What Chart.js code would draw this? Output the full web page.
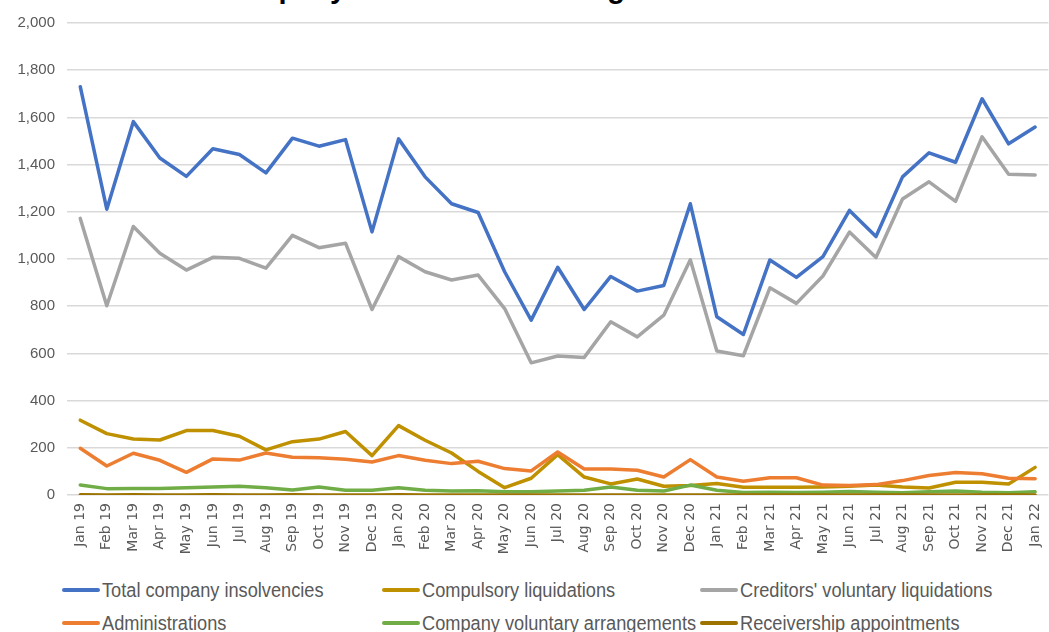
<!DOCTYPE html>
<html>
<head>
<meta charset="utf-8">
<title>Company insolvencies</title>
<script src="https://cdn.jsdelivr.net/npm/chart.js@4.4.1/dist/chart.umd.min.js"></script>
<style>
  html, body {
    margin: 0;
    padding: 0;
    background: #fff;
  }
  body {
    width: 1049px;
    height: 632px;
    overflow: hidden;
    position: relative;
  }
  .title {
    position: absolute;
    left: 0;
    width: 1049px;
    top: -28px;
    text-align: center;
    font: bold 29px "Liberation Sans", Arial, sans-serif;
    color: #000;
    white-space: nowrap;
  }
  #chart {
    position: absolute;
    left: 0;
    top: 0;
  }
  .legend-item {
    position: absolute;
    display: flex;
    align-items: center;
    font: 20px "Liberation Sans", Arial, sans-serif;
    color: #595959;
    white-space: nowrap;
  }
  .legend-item .swatch {
    display: inline-block;
    width: 38px;
    height: 4px;
    border-radius: 2px;
    margin-right: 2px;
  }
  /* narrow the text a little, the sheet uses a condensed face */
  .legend-item .text {
    display: inline-block;
    transform: scaleX(0.91);
    transform-origin: left center;
  }
</style>
</head>
<body>
<div class="title">Company insolvencies in England and Wales</div>
<canvas id="chart" width="1060" height="570"></canvas>
<div id="legend"></div>

<script>
const labels = [
  "Jan 19", "Feb 19", "Mar 19", "Apr 19", "May 19", "Jun 19", "Jul 19", "Aug 19", "Sep 19", "Oct 19", "Nov 19", "Dec 19",
  "Jan 20", "Feb 20", "Mar 20", "Apr 20", "May 20", "Jun 20", "Jul 20", "Aug 20", "Sep 20", "Oct 20", "Nov 20", "Dec 20",
  "Jan 21", "Feb 21", "Mar 21", "Apr 21", "May 21", "Jun 21", "Jul 21", "Aug 21", "Sep 21", "Oct 21", "Nov 21", "Dec 21",
  "Jan 22"
];

const totalInsolvencies = [
  1730, 1211, 1582, 1428, 1350, 1467, 1443, 1365, 1512, 1478, 1506, 1115,
  1509, 1348, 1234, 1197, 946, 741, 965, 786, 926, 864, 888, 1234,
  755, 680, 996, 922, 1010, 1206, 1095, 1348, 1450, 1410, 1679, 1488,
  1559
];

const compulsoryLiquidations = [
  317, 260, 237, 233, 273, 273, 249, 191, 226, 237, 269, 167,
  294, 232, 178, 100, 31, 71, 171, 76, 47, 68, 37, 40,
  49, 33, 33, 33, 34, 37, 42, 34, 30, 54, 54, 47,
  117
];

const creditorsVoluntary = [
  1172, 802, 1138, 1024, 953, 1007, 1003, 961, 1100, 1048, 1067, 786,
  1010, 946, 911, 932, 790, 560, 589, 583, 734, 670, 762, 997,
  610, 590, 878, 812, 928, 1114, 1006, 1254, 1327, 1244, 1518, 1359,
  1356
];

const administrations = [
  198, 123, 177, 147, 96, 153, 148, 178, 160, 158, 151, 140,
  167, 147, 133, 143, 112, 102, 182, 110, 110, 105, 76, 150,
  76, 58, 73, 73, 42, 40, 44, 61, 83, 95, 90, 71,
  69
];

const voluntaryArrangements = [
  42, 27, 28, 28, 31, 34, 37, 31, 21, 34, 20, 20,
  31, 20, 17, 18, 14, 14, 17, 20, 34, 20, 17, 42,
  20, 11, 12, 11, 12, 15, 12, 10, 14, 17, 12, 10,
  14
];

const receiverships = [
  1, 0, 1, 0, 0, 1, 0, 0, 1, 0, 0, 0,
  1, 0, 0, 0, 0, 0, 0, 0, 0, 0, 0, 0,
  0, 0, 0, 0, 0, 0, 0, 0, 0, 0, 0, 0,
  0
];

const yTicks = [0, 200, 400, 600, 800, 1000, 1200, 1400, 1600, 1800, 2000];

const series = [
  { label: "Total company insolvencies", data: totalInsolvencies, color: "#4472C4" },
  { label: "Compulsory liquidations", data: compulsoryLiquidations, color: "#BF9000" },
  { label: "Creditors' voluntary liquidations", data: creditorsVoluntary, color: "#A5A5A5" },
  { label: "Administrations", data: administrations, color: "#ED7D31" },
  { label: "Company voluntary arrangements", data: voluntaryArrangements, color: "#70AD47" },
  { label: "Receivership appointments", data: receiverships, color: "#9C7300" },
];

const data = {
  labels: labels,
  datasets: series.map((s, i) => ({
    label: s.label,
    data: s.data,
    borderColor: s.color,
    backgroundColor: s.color,
    borderWidth: 3.5,
    pointRadius: 0,
    tension: 0,
    borderJoinStyle: "round",
    borderCapStyle: "round",
    // later series sit on top, like the spreadsheet draws them
    order: series.length - i,
  })),
};

const config = {
  type: "line",
  data: data,
  options: {
    responsive: false,
    animation: false,
    layout: {
      padding: { top: 23, right: 5, bottom: 0, left: 0 },
    },
    plugins: {
      legend: { display: false },
      tooltip: { enabled: false },
    },
    scales: {
      x: {
        offset: true,
        grid: { display: false, drawTicks: false },
        border: { display: false },
        ticks: {
          autoSkip: false,
          minRotation: 90,
          maxRotation: 90,
          padding: 8,
          color: "#595959",
          font: { family: "DejaVu Sans", size: 14 },
        },
        afterFit: (scale) => { scale.height = 75; },
      },
      y: {
        min: 0,
        max: 2000,
        afterBuildTicks: (scale) => {
          scale.ticks = yTicks.map((v) => ({ value: v }));
        },
        grid: { color: "#D9D9D9", lineWidth: 1.5, drawTicks: false },
        border: { display: false },
        ticks: {
          padding: 12,
          color: "#595959",
          font: { family: "Liberation Sans", size: 15 },
          callback: (v) => v.toLocaleString("en-GB"),
        },
        afterFit: (scale) => { scale.width = 67; },
      },
    },
  },
};

const myChart = new Chart(document.getElementById("chart"), config);

// legend laid out in three columns under the axis
const legendBox = document.querySelector("#legend");
const columns = [62, 382, 700];
const rows = [590, 623];

series.forEach((s, i) => {
  const item = document.createElement("div");
  item.className = "legend-item";
  item.style.left = columns[i % 3] + "px";
  item.style.top = (rows[Math.floor(i / 3)] - 12) + "px";
  item.style.height = "24px";

  const swatch = document.createElement("span");
  swatch.className = "swatch";
  swatch.style.background = s.color;

  const text = document.createElement("span");
  text.className = "text";
  text.textContent = s.label;

  item.appendChild(swatch);
  item.appendChild(text);
  legendBox.appendChild(item);
});
</script>
</body>
</html>
